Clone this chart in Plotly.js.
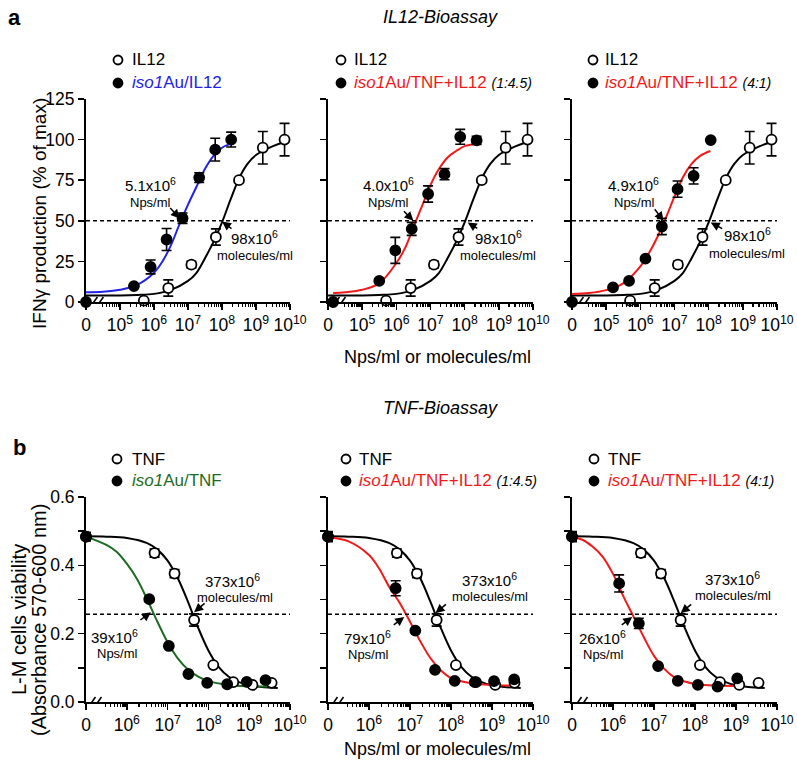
<!DOCTYPE html>
<html>
<head>
<meta charset="utf-8">
<script src="https://cdn.plot.ly/plotly-3.0.1.min.js"></script>
<style>
  html, body { margin: 0; padding: 0; background: #fff; }
  #chart { width: 797px; height: 761px; }
</style>
</head>
<body>
<div id="chart"></div>
<script>
// x values are log10 of concentration; the "0" dose sits on the y axis
// ---- a: IL12 bioassay ----
const il12X   = [5.7, 6.42, 7.1, 7.82, 8.5, 9.2, 9.84];
const il12Y   = [0.8, 8.6, 23, 40, 75, 95, 100];
const il12Err = [0, 5, 2, 5, 0, 10, 10];
const il12FitX = [4, 5, 5.5, 6, 6.5, 7, 7.25, 7.5, 7.75, 8, 8.25, 8.5, 8.75, 9, 9.5, 9.85];
const il12FitY = [4, 4, 4.3, 5, 7.5, 13, 18, 27, 37, 49, 63, 76, 85, 90.5, 96, 98.5];

const auIl12X   = [4, 5.41, 5.9, 6.37, 6.84, 7.33, 7.8, 8.27];
const auIl12Y   = [0, 9.8, 21.6, 38.5, 51.6, 76.6, 93.8, 100];
const auIl12Err = [0, 0, 4.3, 6.8, 3.2, 3, 7, 4.6];
const auIl12FitX = [4, 4.5, 5, 5.5, 6, 6.25, 6.5, 6.75, 7, 7.25, 7.5, 7.75, 8, 8.27];
const auIl12FitY = [6, 6.3, 7.5, 10.5, 18, 25, 35, 48, 60, 71, 82, 90, 95, 97.5];

const mixAX   = [4.15, 5.5, 5.97, 6.45, 6.93, 7.41, 7.87, 8.35];
const mixAY   = [0, 13, 31.8, 45, 66.5, 78.7, 101.7, 99.5];
const mixAErr = [0, 0, 8, 4, 5, 3.4, 4.6, 2.5];
const mixAFitX = [4.15, 4.5, 5, 5.5, 6, 6.25, 6.5, 6.75, 7, 7.25, 7.5, 7.75, 8, 8.35];
const mixAFitY = [5.5, 6, 7.5, 11.5, 24, 33, 46, 59, 72, 82, 89, 93, 96, 97.5];

const mixBX   = [4, 5.2, 5.67, 6.15, 6.63, 7.09, 7.56, 8.06];
const mixBY   = [0, 9, 13, 26.7, 46.5, 69.5, 77.7, 99.7];
const mixBErr = [0, 0, 0, 0, 5, 5, 5, 0];
const mixBFitX = [4, 4.5, 5, 5.5, 6, 6.25, 6.5, 6.75, 7, 7.25, 7.5, 7.75, 8.05];
const mixBFitY = [5, 5.5, 7.3, 11.5, 22, 30, 40, 52, 65, 77, 85, 90, 93];

// ---- b: TNF bioassay ----
const tnfX   = [5, 6.68, 7.17, 7.65, 8.12, 8.61, 9.08, 9.55];
const tnfY   = [0.484, 0.436, 0.376, 0.24, 0.108, 0.058, 0.05, 0.056];
const tnfErr = [0.012, 0.012, 0.012, 0.018, 0, 0, 0, 0];
const tnfFitX = [5, 5.5, 6, 6.5, 6.75, 7, 7.25, 7.5, 7.75, 8, 8.25, 8.5, 8.75, 9, 9.3, 9.7];
const tnfFitY = [0.485, 0.484, 0.48, 0.465, 0.446, 0.414, 0.362, 0.293, 0.217, 0.151, 0.103, 0.074, 0.058, 0.049, 0.044, 0.041];

const auTnfX   = [5, 6.55, 7.03, 7.51, 7.97, 8.46, 8.94, 9.4];
const auTnfY   = [0.484, 0.301, 0.164, 0.082, 0.056, 0.052, 0.059, 0.064];
const auTnfErr = [0.012, 0, 0, 0, 0, 0, 0, 0];
const auTnfFitX = [5, 5.5, 5.75, 6, 6.25, 6.5, 6.75, 7, 7.25, 7.5, 7.75, 8, 8.5, 9, 9.45];
const auTnfFitY = [0.484, 0.46, 0.44, 0.405, 0.36, 0.3, 0.235, 0.175, 0.128, 0.095, 0.074, 0.061, 0.05, 0.046, 0.045];

const tmixAX   = [5, 6.65, 7.13, 7.61, 8.09, 8.58, 9.05, 9.54];
const tmixAY   = [0.484, 0.333, 0.209, 0.094, 0.062, 0.058, 0.061, 0.066];
const tmixAErr = [0.015, 0.022, 0, 0, 0, 0, 0, 0];
const tmixAFitX = [5, 5.5, 6, 6.25, 6.5, 6.75, 7, 7.25, 7.5, 7.75, 8, 8.5, 9, 9.55];
const tmixAFitY = [0.482, 0.47, 0.43, 0.39, 0.335, 0.29, 0.235, 0.178, 0.128, 0.093, 0.07, 0.055, 0.05, 0.048];

const tmixBX   = [5, 6.15, 6.63, 7.1, 7.58, 8.07, 8.55, 9.03];
const tmixBY   = [0.484, 0.347, 0.23, 0.105, 0.062, 0.05, 0.045, 0.069];
const tmixBErr = [0.015, 0.025, 0.015, 0, 0, 0, 0, 0];
const tmixBFitX = [5, 5.25, 5.5, 5.75, 6, 6.25, 6.5, 6.75, 7, 7.25, 7.5, 7.75, 8, 8.5, 9.05];
const tmixBFitY = [0.482, 0.475, 0.455, 0.425, 0.375, 0.31, 0.25, 0.19, 0.135, 0.097, 0.072, 0.06, 0.053, 0.048, 0.047];

const topTicks = [4, 5, 6, 7, 8, 9, 10];
const topTickText = ["0", "10<sup>5</sup>", "10<sup>6</sup>", "10<sup>7</sup>", "10<sup>8</sup>", "10<sup>9</sup>", "10<sup>10</sup>"];
const botTicks = [5, 6, 7, 8, 9, 10];
const botTickText = ["0", "10<sup>6</sup>", "10<sup>7</sup>", "10<sup>8</sup>", "10<sup>9</sup>", "10<sup>10</sup>"];
const topYTicks = [0, 25, 50, 75, 100, 125];
const botYTicks = [0, 0.2, 0.4, 0.6];
const botYText = ["0.0", "0.2", "0.4", "0.6"];

const BLUE = "#2323e6", RED = "#f01a1a", GREEN = "#1e6b22";
const FONT = "Liberation Sans, Arial, sans-serif";
const W = 797, H = 761;
const fx = p => p / W;
const fy = p => 1 - p / H;

function curve(xs, ys, color, n) {
  return {x: xs, y: ys, mode: "lines", line: {color: color, width: 2, shape: "spline"},
    xaxis: "x" + n, yaxis: "y" + n, hoverinfo: "skip", showlegend: false};
}
function points(xs, ys, err, filled, n) {
  return {x: xs, y: ys, mode: "markers", cliponaxis: false,
    marker: {size: 10, color: filled ? "black" : "white", line: {color: "black", width: 1.8}},
    error_y: {type: "data", array: err, color: "black", thickness: 1.6, width: 5},
    xaxis: "x" + n, yaxis: "y" + n, showlegend: false};
}

const data = [
  curve(il12FitX, il12FitY, "black", ""), curve(auIl12FitX, auIl12FitY, BLUE, ""),
  points(il12X, il12Y, il12Err, false, ""), points(auIl12X, auIl12Y, auIl12Err, true, ""),
  curve(il12FitX, il12FitY, "black", 2), curve(mixAFitX, mixAFitY, RED, 2),
  points(il12X, il12Y, il12Err, false, 2), points(mixAX, mixAY, mixAErr, true, 2),
  curve(il12FitX, il12FitY, "black", 3), curve(mixBFitX, mixBFitY, RED, 3),
  points(il12X, il12Y, il12Err, false, 3), points(mixBX, mixBY, mixBErr, true, 3),
  curve(tnfFitX, tnfFitY, "black", 4), curve(auTnfFitX, auTnfFitY, GREEN, 4),
  points(tnfX, tnfY, tnfErr, false, 4), points(auTnfX, auTnfY, auTnfErr, true, 4),
  curve(tnfFitX, tnfFitY, "black", 5), curve(tmixAFitX, tmixAFitY, RED, 5),
  points(tnfX, tnfY, tnfErr, false, 5), points(tmixAX, tmixAY, tmixAErr, true, 5),
  curve(tnfFitX, tnfFitY, "black", 6), curve(tmixBFitX, tmixBFitY, RED, 6),
  points(tnfX, tnfY, tnfErr, false, 6), points(tmixBX, tmixBY, tmixBErr, true, 6)
];

// log-style minor ticks
function minorTicks(first) {
  const v = [];
  for (let d = first; d < 10; d++) {
    for (let k = 2; k <= 9; k++) {
      if (d === first && k < 3) continue;
      v.push(d + Math.log10(k));
    }
  }
  return v;
}

const colsPx = [[86, 290], [328, 533], [572, 777]];
const topY = [fy(302), fy(99)];
const botY = [fy(702), fy(497)];

function xAxis(i, bottom, n) {
  return {
    domain: [fx(colsPx[i][0]), fx(colsPx[i][1])], anchor: "y" + n,
    range: bottom ? [5, 10] : [4, 10],
    showline: true, linecolor: "black", linewidth: 2,
    ticks: "outside", ticklen: 6, tickwidth: 1.6, tickcolor: "black",
    tickmode: "array", tickvals: bottom ? botTicks : topTicks,
    ticktext: bottom ? botTickText : topTickText,
    tickfont: {family: FONT, size: 17.5, color: "black"},
    showgrid: false, zeroline: false, fixedrange: true,
    minor: {tickmode: "array", tickvals: minorTicks(bottom ? 5 : 4), ticks: "outside",
      ticklen: 3, tickwidth: 1.3, tickcolor: "black", showgrid: false}
  };
}
function yAxis(bottom, labels, n) {
  const ax = {
    domain: bottom ? botY : topY, anchor: "x" + n,
    range: bottom ? [0, 0.6] : [0, 125],
    showline: true, linecolor: "black", linewidth: 2,
    ticks: "outside", ticklen: 6, tickwidth: 1.6, tickcolor: "black",
    tickmode: "array",
    tickvals: bottom ? botYTicks : topYTicks,
    ticktext: bottom ? botYText : topYTicks.map(String),
    showticklabels: labels,
    tickfont: {family: FONT, size: 17.5, color: "black"},
    showgrid: false, zeroline: false, fixedrange: true
  };
  if (bottom) {
    ax.minor = {tickmode: "array", tickvals: [0.1, 0.3, 0.5], ticks: "outside",
      ticklen: 6, tickwidth: 1.6, tickcolor: "black", showgrid: false};
  }
  return ax;
}

const layout = {
  width: W, height: H,
  margin: {l: 0, r: 0, t: 0, b: 0},
  paper_bgcolor: "white", plot_bgcolor: "white",
  font: {family: FONT, color: "black"},
  showlegend: false,
  xaxis: xAxis(0, false, ""), yaxis: yAxis(false, true, ""),
  xaxis2: xAxis(1, false, 2), yaxis2: yAxis(false, false, 2),
  xaxis3: xAxis(2, false, 3), yaxis3: yAxis(false, false, 3),
  xaxis4: xAxis(0, true, 4), yaxis4: yAxis(true, true, 4),
  xaxis5: xAxis(1, true, 5), yaxis5: yAxis(true, false, 5),
  xaxis6: xAxis(2, true, 6), yaxis6: yAxis(true, false, 6),
  shapes: [],
  annotations: []
};
layout.xaxis.anchor = "y"; layout.yaxis.anchor = "x";

const refs = ["", 2, 3, 4, 5, 6];
// dashed half-max lines and axis breaks
refs.forEach((n, i) => {
  const bottom = i >= 3;
  const xr = "x" + n, yr = "y" + n;
  const y50 = bottom ? 0.257 : 50;
  layout.shapes.push({type: "line", xref: xr, yref: yr, x0: bottom ? 5 : 4, x1: 10, y0: y50, y1: y50,
    line: {color: "black", width: 1.6, dash: "4px,3px"}});
  const xb = bottom ? 5.22 : 4.32;
  [-3, 3].forEach(d => layout.shapes.push({type: "line", xref: xr, yref: yr,
    xsizemode: "pixel", xanchor: xb, x0: d - 3.5, x1: d + 3.5,
    ysizemode: "pixel", yanchor: 0, y0: -5, y1: 5,
    line: {color: "black", width: 1.6}}));
});

// legends (glyph + text)
function legendRow(mx, tx, py, filled, html) {
  layout.shapes.push({type: "circle", xref: "paper", yref: "paper",
    xsizemode: "pixel", xanchor: fx(mx), x0: -4.5, x1: 4.5,
    ysizemode: "pixel", yanchor: fy(py), y0: -4.5, y1: 4.5,
    fillcolor: filled ? "black" : "white", line: {color: "black", width: 1.8}});
  layout.annotations.push({xref: "paper", yref: "paper", x: fx(tx), y: fy(py),
    xanchor: "left", yanchor: "middle", showarrow: false, text: html,
    font: {family: FONT, size: 17, color: "black"}});
}
const iso = (c, rest) => '<span style="color:' + c + '"><i>iso1</i>' + rest + '</span>';
const ratio = r => ' <span style="font-size:14px"><i>(' + r + ')</i></span>';
legendRow(118, 130, 60, false, "IL12");
legendRow(118, 130, 83, true, iso(BLUE, "Au/IL12"));
legendRow(341, 352, 60, false, "IL12");
legendRow(341, 352, 83, true, iso(RED, "Au/TNF+IL12") + ratio("1:4.5"));
legendRow(593, 603, 60, false, "IL12");
legendRow(593, 603, 83, true, iso(RED, "Au/TNF+IL12") + ratio("4:1"));
legendRow(117, 130, 459, false, "TNF");
legendRow(117, 130, 481, true, iso(GREEN, "Au/TNF"));
legendRow(346, 357, 459, false, "TNF");
legendRow(346, 357, 481, true, iso(RED, "Au/TNF+IL12") + ratio("1:4.5"));
legendRow(594, 606, 459, false, "TNF");
legendRow(594, 606, 481, true, iso(RED, "Au/TNF+IL12") + ratio("4:1"));

// EC50 labels and arrows
function label(n, x, y, txt, size) {
  layout.annotations.push({xref: "x" + n, yref: "y" + n, x: x, y: y, text: txt, showarrow: false,
    xanchor: "center", yanchor: "middle", font: {family: FONT, size: size, color: "black"}});
}
function arrow(n, x, y, ax, ay) {
  layout.annotations.push({xref: "x" + n, yref: "y" + n, x: x, y: y, ax: ax, ay: ay, text: "",
    showarrow: true, arrowhead: 2, arrowsize: 1.2, arrowwidth: 1.5, arrowcolor: "black", standoff: 0});
}
const sup6 = "x10<sup>6</sup>";
label("", 5.91, 72.2, "5.1" + sup6, 15); label("", 5.91, 61.2, "Nps/ml", 13);
arrow("", 6.76, 51.4, -11, -12);
label("", 8.97, 39.6, "98" + sup6, 15); label("", 8.97, 28.8, "molecules/ml", 13);
arrow("", 8.0, 49.5, 11, 8);
label(2, 5.76, 72.2, "4.0" + sup6, 15); label(2, 5.76, 61.2, "Nps/ml", 13);
arrow(2, 6.5, 50, -11, -11);
label(2, 9.0, 39.6, "98" + sup6, 15); label(2, 8.97, 28.8, "molecules/ml", 13);
arrow(2, 8.09, 49, 11, 7);
label(3, 5.8, 72.2, "4.9" + sup6, 15); label(3, 5.82, 61.2, "Nps/ml", 13);
arrow(3, 6.68, 50, -10, -13);
label(3, 9.15, 41.5, "98" + sup6, 15); label(3, 9.12, 30.0, "molecules/ml", 13);
arrow(3, 8.06, 49, 13, 7);

label(4, 8.58, 0.356, "373" + sup6, 15); label(4, 8.65, 0.305, "molecules/ml", 13);
arrow(4, 7.65, 0.263, 12, -10);
label(4, 5.71, 0.192, "39" + sup6, 15); label(4, 5.76, 0.141, "Nps/ml", 13);
arrow(4, 6.59, 0.263, -12, 9);
label(5, 8.95, 0.359, "373" + sup6, 15); label(5, 8.95, 0.308, "molecules/ml", 13);
arrow(5, 7.62, 0.26, 12, -10);
label(5, 5.96, 0.189, "79" + sup6, 15); label(5, 5.98, 0.138, "Nps/ml", 13);
arrow(5, 6.86, 0.249, -12, 9);
label(6, 8.92, 0.362, "373" + sup6, 15); label(6, 8.92, 0.311, "molecules/ml", 13);
arrow(6, 7.65, 0.26, 12, -10);
label(6, 5.74, 0.189, "26" + sup6, 15); label(6, 5.76, 0.138, "Nps/ml", 13);
arrow(6, 6.47, 0.249, -12, 9);

// titles and panel letters
function paperText(x, y, txt, size, extra) {
  layout.annotations.push(Object.assign({xref: "paper", yref: "paper", x: fx(x), y: fy(y),
    text: txt, showarrow: false, xanchor: "center", yanchor: "middle",
    font: {family: FONT, size: size, color: "black"}}, extra || {}));
}
paperText(14, 18, "<b>a</b>", 22);
paperText(19, 447, "<b>b</b>", 22);
paperText(440, 17, "<i>IL12-Bioassay</i>", 18);
paperText(440, 408, "<i>TNF-Bioassay</i>", 18);
paperText(437, 357, "Nps/ml or molecules/ml", 18);
paperText(437, 749, "Nps/ml or molecules/ml", 18);
paperText(39, 214, "IFN\u03b3 production (% of max)", 19, {textangle: -90});
paperText(19, 620, "L-M cells viability", 20, {textangle: -90});
paperText(39, 620, "(Absorbance 570-600 nm)", 20, {textangle: -90});

Plotly.newPlot("chart", data, layout, {staticPlot: true, displayModeBar: false});
</script>
</body>
</html>
